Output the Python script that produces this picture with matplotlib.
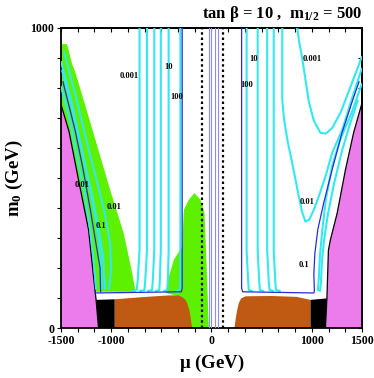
import matplotlib
matplotlib.use('Agg')
import numpy as np
import matplotlib.pyplot as plt

plt.rcParams['font.family'] = ['Liberation Serif', 'DejaVu Serif']
plt.rcParams['font.weight'] = 'bold'
plt.rcParams['mathtext.fontset'] = 'custom'
plt.rcParams['mathtext.rm'] = 'Liberation Serif:bold'
plt.rcParams['mathtext.it'] = 'Liberation Serif:bold'
plt.rcParams['mathtext.bf'] = 'Liberation Serif:bold'

# ---------------- data (mu, m0) ----------------
pink_left = [(-1500, 0), (-1125, 0), (-1150, 95), (-1175, 170), (-1225, 328),
             (-1325, 494), (-1420, 655), (-1500, 745)]
pink_right = [(1500, 0), (1135, 0), (1150, 100), (1165, 260), (1185, 295),
              (1252, 383), (1335, 528), (1417, 652), (1500, 750)]
green_band = [(-1500, 745), (-1420, 655), (-1325, 494), (-1225, 328), (-1175, 170),
              (-1160, 122), (-755, 122), (-800, 200), (-875, 317), (-1000, 450),
              (-1190, 665), (-1355, 850), (-1390, 880), (-1425, 927), (-1440, 945),
              (-1500, 945)]
green_center = [(-458, 118), (-425, 172), (-376, 228), (-292, 272), (-276, 394),
                (-226, 428), (-170, 450), (-110, 428), (-70, 384), (-43, 161),
                (-27, 0), (-192, 0), (-309, 106)]
brown_left = [(-965, 0), (-965, 97), (-700, 104), (-420, 110), (-330, 110),
              (-290, 104), (-260, 95), (-242, 84), (-220, 60), (-205, 30), (-192, 0)]
brown_right = [(229, 0), (240, 30), (255, 60), (272, 84), (295, 100), (340, 107),
               (600, 108), (850, 105), (987, 95), (987, 0)]
black_left = [(-1125, 0), (-1150, 95), (-965, 97), (-965, 0)]
black_right = [(987, 0), (987, 95), (1148, 100), (1135, 0)]

# cyan contour lines
cyan_lines = [
    # left vertical family
    [(-717, 1000), (-717, 260), (-735, 160), (-745, 128), (-790, 124)],
    [(-643, 1000), (-643, 260), (-660, 160), (-668, 128), (-720, 124)],
    [(-570, 1000), (-570, 260), (-585, 160), (-592, 128), (-640, 124)],
    [(-505, 1000), (-505, 260), (-515, 160), (-520, 128), (-560, 124)],
    [(-427, 1000), (-427, 260), (-435, 160), (-440, 128), (-480, 124)],
    [(-310, 1000), (-310, 150), (-318, 130), (-360, 124)],
    # right vertical family
    [(350, 1000), (350, 260), (365, 160), (372, 128), (410, 124)],
    [(460, 1000), (460, 260), (475, 160), (482, 128), (520, 124)],
    [(555, 1000), (555, 260), (570, 160), (578, 128), (620, 124)],
    [(620, 1000), (620, 260), (635, 160), (642, 128), (690, 124)],
    # 0.01 (right U)
    [(705, 1000), (705, 760), (725, 690), (760, 620), (804, 550), (870, 439),
     (905, 385), (936, 355), (975, 362), (1020, 395), (1069, 439), (1140, 510),
     (1202, 583), (1302, 660), (1400, 765), (1500, 866)],
    # 0.001 (right U)
    [(853, 1000), (875, 950), (903, 900), (935, 830), (969, 755), (1020, 690),
     (1086, 650), (1140, 648), (1202, 666), (1290, 720), (1367, 788), (1450, 860),
     (1500, 905)],
    # right lines along the boundary
    [(1500, 815), (1400, 720), (1285, 630), (1202, 540), (1140, 430), (1105, 330),
     (1080, 240), (1070, 170), (1060, 125)],
    [(1460, 760), (1380, 680), (1300, 590), (1220, 480), (1160, 380), (1120, 290),
     (1100, 220), (1090, 150), (1080, 122)],
    # left diagonal family
    [(-1500, 805), (-1420, 705), (-1330, 560), (-1260, 440), (-1210, 330),
     (-1175, 230), (-1150, 130)],
    [(-1500, 888), (-1400, 760), (-1300, 610), (-1220, 480), (-1150, 360),
     (-1110, 260), (-1090, 130)],
    [(-1490, 860), (-1380, 720), (-1290, 590), (-1200, 460), (-1130, 340),
     (-1080, 240), (-1060, 130)],
    [(-1470, 920), (-1350, 770), (-1250, 630), (-1150, 500), (-1060, 380),
     (-1010, 280), (-1000, 200), (-1020, 130)],
]

# dark-blue lines
blue_lines = [
    [(-292, 1000), (-292, 135), (-300, 122), (-1160, 118)],
    [(-1480, 820), (-1360, 660), (-1280, 530), (-1210, 400), (-1150, 280),
     (-1110, 200), (-1105, 122)],
    [(300, 1000), (300, 135), (310, 122), (1020, 118), (1025, 125), (1020, 180),
     (1030, 250), (1060, 330), (1120, 420), (1200, 525), (1300, 650), (1400, 752),
     (1470, 820)],
]
thin_mid = [-25, -5, 38, 62]
dotted_mu = [-93, 117]

labels = [("0.001", -823, 840), ("10", -432, 868), ("100", -342, 768),
          ("10", 420, 897), ("100", 355, 808), ("0.001", 1003, 897),
          ("0.01", 953, 422), ("0.1", 917, 211),
          ("0.01", -1288, 478), ("0.01", -973, 405), ("0.1", -1105, 339)]

xtick_labels = {-1500: "-1500", -1000: "-1000", 0: "0", 1000: "1000", 1500: "1500"}
ytick_labels = {0: "0", 1000: "1000"}

PINK = '#ec7cec'
GREEN = '#5df000'
BROWN = '#c05a12'
CYAN = '#33e8f0'
BLUE = '#2a2ad8'
LBLUE = '#8c8cf0'

fig = plt.figure(figsize=(3.74, 3.78), dpi=100)
ax = fig.add_axes([0.163, 0.131, 0.805, 0.796])
ax.set_xlim(-1500, 1500)
ax.set_ylim(0, 1000)


def poly(pts, color, z):
    xs, ys = zip(*pts)
    ax.fill(xs, ys, color=color, lw=0, zorder=z)


poly(green_band, GREEN, 1)
poly(green_center, GREEN, 1)
poly(pink_left, PINK, 2)
poly(pink_right, PINK, 2)
poly(brown_left, BROWN, 2)
poly(brown_right, BROWN, 2)
poly(black_left, 'black', 2)
poly(black_right, 'black', 2)

# boundary of pink regions
for pts in (pink_left[1:], pink_right[1:]):
    xs, ys = zip(*pts)
    ax.plot(xs, ys, color='black', lw=0.9, zorder=3)

for mu in thin_mid:
    ax.plot([mu, mu], [0, 1000], color=LBLUE, lw=0.8, zorder=3)

for pts in cyan_lines:
    xs, ys = zip(*pts)
    ax.plot(xs, ys, color=CYAN, lw=1.5, zorder=4, solid_capstyle='butt')

for pts in blue_lines:
    xs, ys = zip(*pts)
    ax.plot(xs, ys, color=BLUE, lw=0.9, zorder=4)

for mu in dotted_mu:
    ax.plot([mu, mu], [0, 1000], color='black', lw=1.6,
            linestyle=(0, (1.1, 1.3)), zorder=5)

for txt, x, y in labels:
    ax.text(x, y, txt, fontsize=6, fontweight='bold', ha='center', va='center',
            zorder=6)

# ticks
xt = np.linspace(-1500, 1500, 19)
yt = np.linspace(0, 1000, 11)
ax.set_xticks(xt)
ax.set_yticks(yt)
ax.set_xticklabels([xtick_labels.get(int(round(v)), "") for v in xt])
ax.set_yticklabels([ytick_labels.get(int(round(v)), "") for v in yt])
ax.tick_params(direction='out', length=3, width=0.8, labelsize=8.5, pad=2)
for lab in ax.get_xticklabels() + ax.get_yticklabels():
    lab.set_fontweight('bold')

sx = ax.secondary_xaxis('top')
sx.set_xticks(xt)
sx.tick_params(direction='in', length=3, width=0.8, labeltop=False)
sy = ax.secondary_yaxis('right')
sy.set_yticks(yt)
sy.tick_params(direction='in', length=3, width=0.8, labelright=False)

for s in list(ax.spines.values()):
    s.set_linewidth(1.3)
for s in list(sx.spines.values()) + list(sy.spines.values()):
    s.set_linewidth(1.3)

ax.set_xlabel(r'$\mu$ (GeV)', fontsize=13.5, fontweight='bold', labelpad=4)
ax.set_ylabel(r'm$_0$ (GeV)', fontsize=13.5, fontweight='bold', labelpad=4)
fig.text(0.968, 0.962, r'tan $\beta$ = 10 ,  m$_{1/2}$ = 500', ha='right',
         va='center', fontsize=12, fontweight='bold')

fig.savefig('out.png', dpi=100)
